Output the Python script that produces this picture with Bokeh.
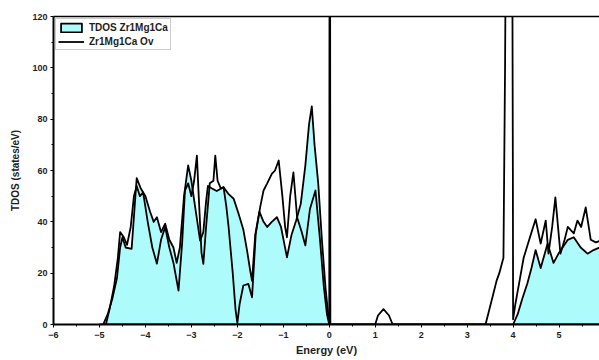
from bokeh.plotting import figure
from bokeh.models import LinearAxis, Legend, LegendItem, FixedTicker
from bokeh.embed import file_html
from bokeh.resources import INLINE

# Total density of states, pristine Zr1Mg1Ca (filled curve)
tdos_energy = [-4.92, -4.82, -4.72, -4.62, -4.55, -4.5, -4.43, -4.3, -4.25, -4.19,
               -4.1, -4.0, -3.9, -3.82, -3.75, -3.66, -3.57, -3.48, -3.39, -3.32,
               -3.25, -3.16, -3.07, -3.0, -2.92, -2.81, -2.74, -2.68, -2.64, -2.55,
               -2.45, -2.3, -2.2, -2.08, -1.97, -1.87, -1.79, -1.72, -1.68, -1.61,
               -1.52, -1.43, -1.35, -1.25, -1.14, -1.05, -0.92, -0.82, -0.72, -0.62,
               -0.52, -0.44, -0.38, -0.32, -0.24, -0.16, -0.08, 0.0,
               4.0, 4.1, 4.2, 4.31, 4.4, 4.49, 4.6, 4.75, 4.88, 5.0,
               5.19, 5.32, 5.47, 5.62, 5.75, 5.88, 5.95]
tdos_states = [0, 4, 10, 18, 30, 34, 30, 29.5, 42, 57,
               53, 50, 44, 40, 41.8, 36, 39.3, 33, 30, 24,
               30, 50, 62, 56, 46, 32.7, 36, 48, 54, 53,
               52, 53.5, 51, 49, 43, 37, 29, 21, 17, 35,
               44, 40, 38, 40, 41.8, 38, 26.2, 35, 40.5, 47,
               62, 78, 85, 70, 55, 33, 14, 0,
               0, 4, 10, 16, 22, 29, 22, 31.5, 24, 28,
               33, 34, 30, 27.6, 29, 30, 28]

# Total density of states with oxygen vacancy (line only)
ov_energy = [-5.0, -4.86, -4.78, -4.68, -4.6, -4.55, -4.47, -4.4, -4.32, -4.25,
             -4.19, -4.12, -4.05, -3.95, -3.85, -3.75, -3.66, -3.57, -3.48, -3.39,
             -3.28, -3.2, -3.14, -3.07, -3.0, -2.94, -2.88, -2.84, -2.78, -2.74,
             -2.68, -2.6, -2.52, -2.48, -2.43, -2.36, -2.3, -2.24, -2.19, -2.1,
             -2.04, -2.0, -1.95, -1.87, -1.76, -1.68, -1.6, -1.5, -1.43, -1.35,
             -1.25, -1.18, -1.1, -1.02, -0.96, -0.92, -0.85, -0.78, -0.7, -0.6,
             -0.52, -0.42, -0.3, -0.2, -0.12, -0.05, 0.0, 0.012, 0.024,
             1.0, 1.06, 1.18, 1.3, 1.38,
             3.4, 3.5, 3.57, 3.64, 3.7, 3.79, 3.825, 3.835, 3.91, 3.985, 3.995, 4.0,
             4.05, 4.15, 4.23, 4.35, 4.49, 4.6, 4.71, 4.77, 4.85, 4.92,
             5.03, 5.12, 5.19, 5.32, 5.4, 5.48, 5.58, 5.69, 5.8, 5.95]
ov_states = [0, 0, 6, 15, 26, 36, 34, 31, 38, 50,
             54, 50, 51.5, 40, 30, 23.7, 33, 38, 30, 24,
             13.2, 32, 52.2, 55, 50, 56, 65.8, 50, 28, 23.6,
             38, 55, 56, 65.8, 56, 53, 53.5, 46, 37.9, 20,
             6, 0.5, 8, 15.2, 15.8, 10.6, 35.3, 46, 52.2, 55,
             58.7, 60, 63.9, 50, 38, 34, 50, 59.3, 41.8, 36,
             30.8, 45, 52.2, 32.7, 15, 4, 0, 320, 0,
             0, 3.5, 6, 3.5, 0,
             0, 7, 12, 17, 20, 26, 100, 130, 500, 130, 60, 2,
             8, 18, 26, 33, 41, 31.5, 40.5, 27.6, 38, 49.5,
             27.6, 33, 38, 35.5, 40.5, 38, 45.6, 33, 32, 33]

x_ticks = [-6, -5, -4, -3, -2, -1, 0, 1, 2, 3, 4, 5]
y_ticks = [0, 20, 40, 60, 80, 100, 120]

FONT = "Liberation Sans"
TEXT = "#1e1e1e"

p = figure(width=599, height=360, x_range=(-6, 5.88), y_range=(0, 120),
           output_backend="svg", toolbar_location=None,
           min_border_left=53, min_border_right=0, min_border_top=16,
           min_border_bottom=36)
p.grid.visible = False
p.outline_line_color = None
p.background_fill_color = "white"
p.border_fill_color = "white"

# filled TDOS polygon, closed down to the energy axis
patch_x = [tdos_energy[0]] + tdos_energy + [tdos_energy[-1]]
patch_y = [0] + tdos_states + [0]
tdos_patch = p.patch(patch_x, patch_y, fill_color="#aefbfb", line_color="black",
                     line_width=1.8, line_join="round")
ov_line = p.line(ov_energy, ov_states, line_color="black", line_width=1.8,
                 line_join="round")

for ax in (p.xaxis[0], p.yaxis[0]):
    ax.axis_line_color = "black"
    ax.axis_line_width = 2
    ax.major_tick_line_color = "black"
    ax.minor_tick_line_color = "black"
    ax.major_tick_in = 0
    ax.major_tick_out = 3
    ax.minor_tick_in = 0
    ax.minor_tick_out = 2
    ax.major_label_text_font = FONT
    ax.major_label_text_font_size = "9px"
    ax.major_label_text_font_style = "bold"
    ax.major_label_text_color = TEXT
    ax.axis_label_text_font = FONT
    ax.axis_label_text_font_style = "bold"
    ax.axis_label_text_color = TEXT

p.xaxis.ticker = FixedTicker(ticks=x_ticks,
                             minor_ticks=[t + 0.5 for t in x_ticks])
p.yaxis.ticker = FixedTicker(ticks=y_ticks,
                             minor_ticks=[t + 10 for t in y_ticks[:-1]])
p.xaxis.axis_label = "Energy (eV)"
p.yaxis.axis_label = "TDOS (states/eV)"
p.xaxis.axis_label_text_font_size = "11px"
p.yaxis.axis_label_text_font_size = "10px"
p.xaxis.major_label_standoff = 4
p.yaxis.major_label_standoff = 3
p.xaxis.axis_label_standoff = 3
p.yaxis.axis_label_standoff = 8

# top frame line
top = LinearAxis(ticker=FixedTicker(ticks=[]), axis_line_color="black",
                 axis_line_width=1.5, major_tick_line_color=None,
                 minor_tick_line_color=None)
p.add_layout(top, "above")

legend = Legend(items=[LegendItem(label="TDOS Zr1Mg1Ca", renderers=[tdos_patch]),
                       LegendItem(label="Zr1Mg1Ca Ov", renderers=[ov_line])],
                location="top_left", margin=2, padding=2, spacing=2,
                glyph_width=26, glyph_height=11, label_standoff=5,
                label_height=12,
                label_text_font=FONT, label_text_font_size="10px",
                label_text_font_style="bold", label_text_color=TEXT,
                border_line_color="#999999",
                border_line_width=1, background_fill_alpha=1)
p.add_layout(legend)

open("out.html", "w").write(file_html(p, INLINE))
